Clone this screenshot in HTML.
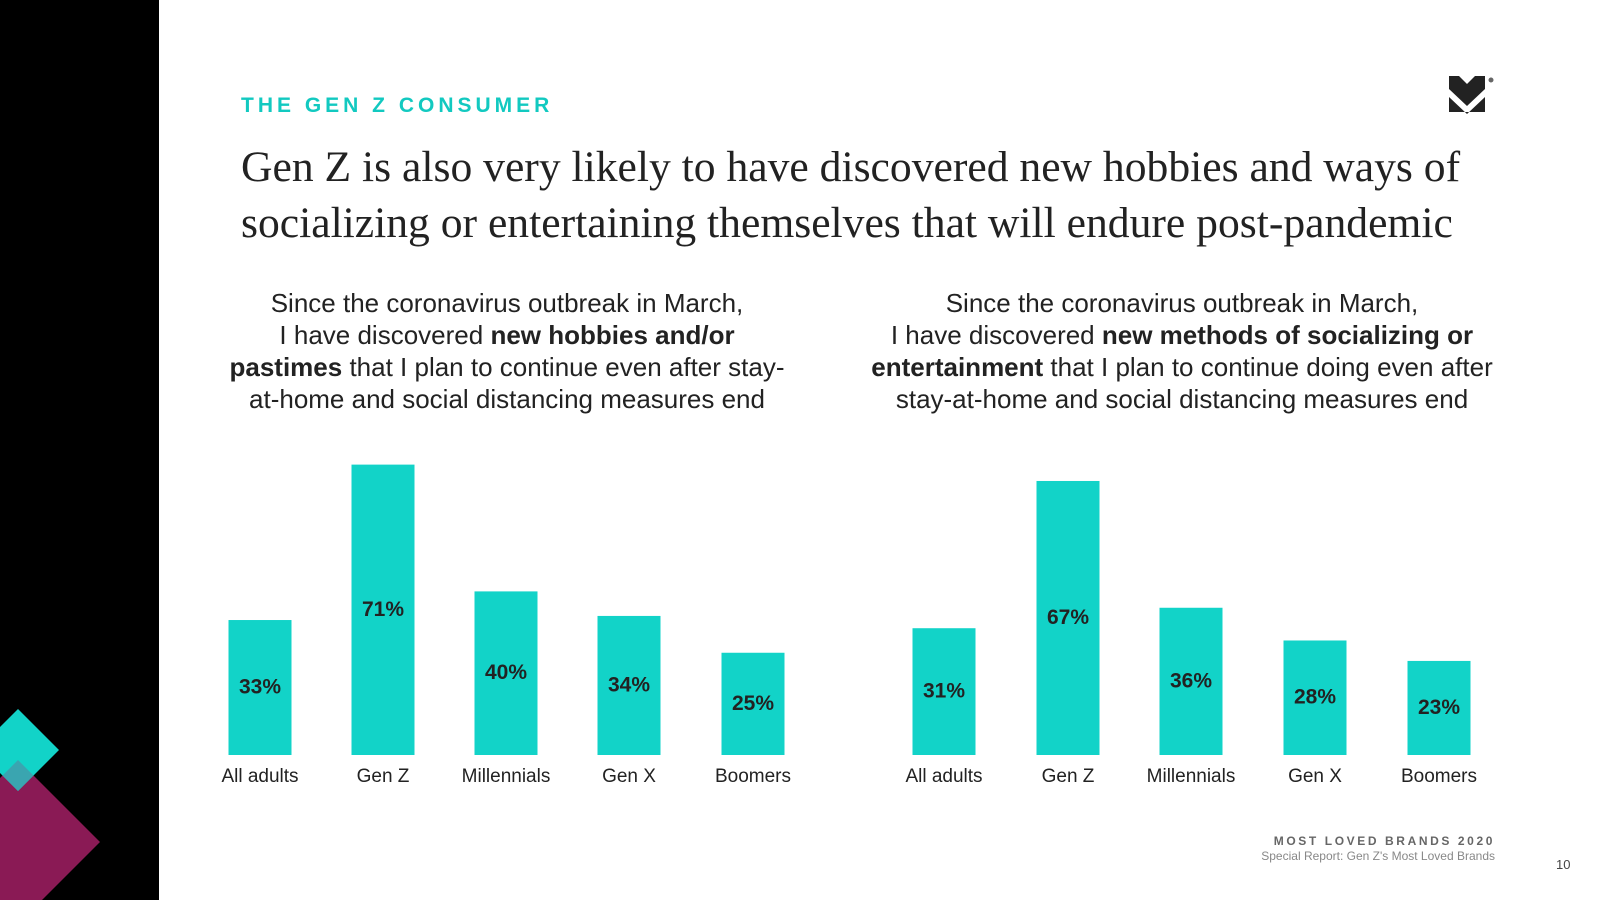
<!DOCTYPE html>
<html><head><meta charset="utf-8"><style>
body{margin:0;width:1600px;height:900px;background:#fff;position:relative;overflow:hidden;font-family:"Liberation Sans",sans-serif}
.abs{position:absolute}
.sub{position:absolute;top:287px;width:700px;text-align:center;font-size:26px;line-height:32px;color:#222}
</style></head><body>
<div class="abs" style="left:0;top:0;width:159px;height:900px;background:#000"></div>
<svg class="abs" style="left:0;top:0" width="159" height="900">
<polygon points="18,760 100,842 18,924 -64,842" fill="#8a1a55"/>
<polygon points="18,709 59,750 18,791 -23,750" fill="#12d3c8"/>
<polygon points="18,760 33.5,775.5 18,791 2.5,775.5" fill="#3aa5b0"/>
</svg>
<div class="abs" style="left:241px;top:94px;font-size:21px;font-weight:bold;letter-spacing:4px;color:#12c9c0">THE GEN Z CONSUMER</div>
<div class="abs" style="left:241px;top:139px;font-family:'Liberation Serif',serif;font-size:43.6px;line-height:56px;color:#222;width:1320px">Gen Z is also very likely to have discovered new hobbies and ways of<br>socializing or entertaining themselves that will endure post-pandemic</div>
<svg class="abs" style="left:1449px;top:76px" width="52" height="38">
<polygon points="0,0 10,0 18,8 26,0 36,0 36,13 18,30 0,13" fill="#222"/>
<polygon points="0,21 18,38 36,21 36,36 0,36" fill="#222"/>
<circle cx="42" cy="4" r="2.5" fill="#666"/>
</svg>
<div class="sub" style="left:157px">Since the coronavirus outbreak in March,<br>I have discovered <b>new hobbies and/or<br>pastimes</b> that I plan to continue even after stay-<br>at-home and social distancing measures end</div>
<div class="sub" style="left:832px">Since the coronavirus outbreak in March,<br>I have discovered <b>new methods of socializing or<br>entertainment</b> that I plan to continue doing even after<br>stay-at-home and social distancing measures end</div>
<svg id="chart" class="abs" style="left:0;top:0" width="1600" height="900"></svg>
<div class="abs" style="right:105px;top:834px;font-size:12px;font-weight:bold;letter-spacing:2.6px;color:#666">MOST LOVED BRANDS 2020</div>
<div class="abs" style="right:105px;top:849px;font-size:12px;color:#888">Special Report: Gen Z's Most Loved Brands</div>
<div class="abs" style="left:1556px;top:857px;font-size:13px;color:#444">10</div>
<script>
const categories=["All adults","Gen Z","Millennials","Gen X","Boomers"];
const hobbiesValues=[33,71,40,34,25];
const socializingValues=[31,67,36,28,23];
const leftCenters=[260,383,506,629,753];
const rightCenters=[944,1068,1191,1315,1439];
const svg=document.getElementById('chart');
const NS='http://www.w3.org/2000/svg';
const baseY=755, pxPer=4.09, barW=63;
function y(v){return baseY-v*pxPer;}
function draw(vals,centers){
 vals.forEach((v,i)=>{
  const r=document.createElementNS(NS,'rect');
  r.setAttribute('x',centers[i]-barW/2);r.setAttribute('y',y(v));
  r.setAttribute('width',barW);r.setAttribute('height',baseY-y(v));
  r.setAttribute('fill','#12d3c8');
  
  
  svg.appendChild(r);
  const t=document.createElementNS(NS,'text');
  t.setAttribute('x',centers[i]);t.setAttribute('y',(y(v)+baseY)/2+6);
  t.setAttribute('text-anchor','middle');t.setAttribute('font-size','21');t.setAttribute('font-weight','bold');t.setAttribute('fill','#222');
  t.setAttribute('font-family','Liberation Sans, sans-serif');
  t.textContent=v+'%';
  
  
  svg.appendChild(t);
  const c=document.createElementNS(NS,'text');
  c.setAttribute('x',centers[i]);c.setAttribute('y',782);
  c.setAttribute('text-anchor','middle');c.setAttribute('font-size','19');c.setAttribute('fill','#222');
  c.setAttribute('font-family','Liberation Sans, sans-serif');
  c.textContent=categories[i];
  
  
  svg.appendChild(c);
 });
}
draw(hobbiesValues,leftCenters);
draw(socializingValues,rightCenters);
</script>
</body></html>
